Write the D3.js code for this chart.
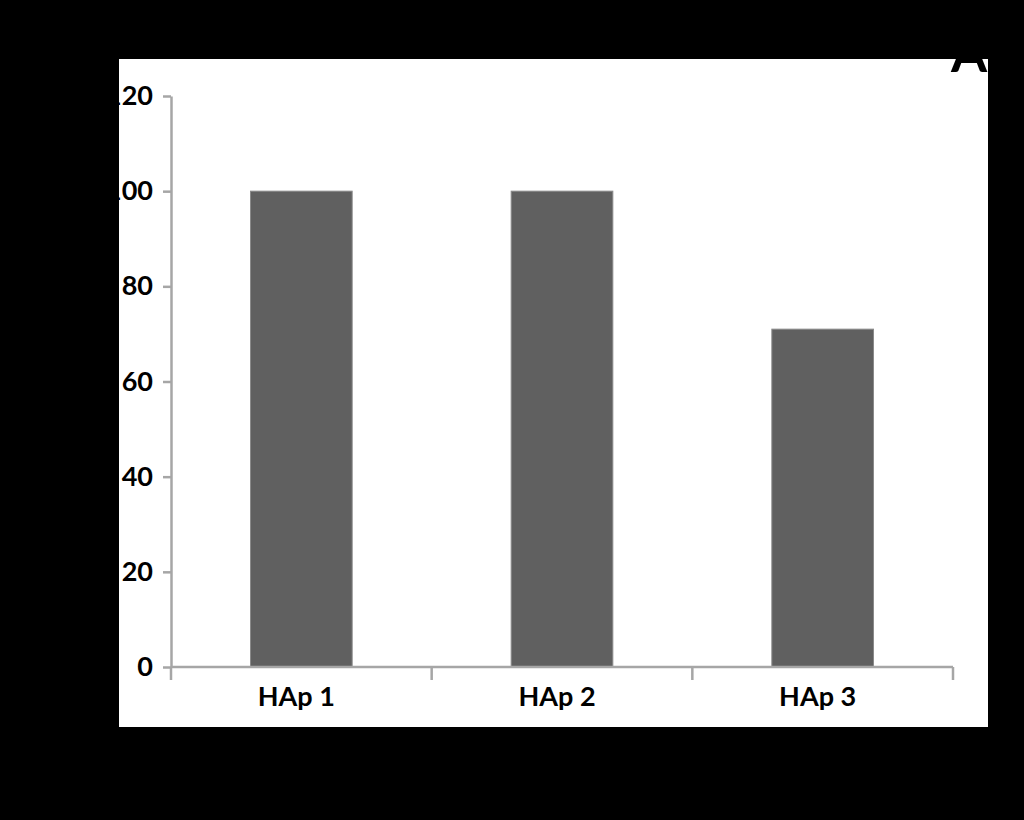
<!DOCTYPE html>
<html><head><meta charset="utf-8">
<script src="https://cdn.jsdelivr.net/npm/d3@7"></script>
<style>html,body{margin:0;padding:0;background:#000;}svg{display:block;}</style>
</head><body>
<svg id="chart" width="1024" height="820"></svg>
<script>
const categories = ["HAp 1", "HAp 2", "HAp 3"];
const values = [100, 100, 71];
const yTicks = [0, 20, 40, 60, 80, 100, 120];
const panelLabel = "A";

const svg = d3.select("#chart");
svg.append("rect").attr("x",0).attr("y",0).attr("width",1024).attr("height",820).attr("fill","#000");
const clip = svg.append("defs").append("clipPath").attr("id","panel");
clip.append("rect").attr("x",119).attr("y",59).attr("width",869).attr("height",668);
const g = svg.append("g").attr("clip-path","url(#panel)");
g.append("rect").attr("x",119).attr("y",59).attr("width",869).attr("height",668).attr("fill","#fff");

const x = d3.scaleBand().domain(categories).range([171,953]).paddingInner(0.61).paddingOuter(0.305);
const y = d3.scaleLinear().domain([0,120]).range([667,96]);

g.selectAll("rect.bar").data(values).join("rect").attr("class","bar")
  .attr("x",(d,i)=>x(categories[i])).attr("width",x.bandwidth())
  .attr("y",d=>y(d)).attr("height",d=>y(0)-y(d))
  .attr("fill","#606060").attr("stroke","#8a8a8a").attr("stroke-width",1);

const font = "Lato, 'Open Sans', sans-serif";
const yAxis = g.append("g").attr("transform","translate(171,0)")
  .call(d3.axisLeft(y).tickValues(yTicks).tickSize(8).tickPadding(10).tickSizeOuter(0));
yAxis.select(".domain").attr("stroke","#a6a6a6").attr("stroke-width",2.5);
yAxis.selectAll(".tick line").attr("stroke","#a6a6a6").attr("stroke-width",2.5);
yAxis.selectAll(".tick text").attr("fill","#000").attr("font-family",font).attr("font-weight","bold").attr("font-size",27);

const xAxisG = g.append("g").attr("transform","translate(0,667)");
xAxisG.append("line").attr("x1",171).attr("x2",953).attr("y1",0).attr("y2",0).attr("stroke","#a6a6a6").attr("stroke-width",2.5);
const bounds = d3.range(categories.length+1).map(i=>171+i*(782/categories.length));
xAxisG.selectAll("line.xt").data(bounds).join("line").attr("class","xt")
  .attr("x1",d=>d).attr("x2",d=>d).attr("y1",0).attr("y2",13).attr("stroke","#a6a6a6").attr("stroke-width",2.5);
xAxisG.selectAll("text").data(categories).join("text")
  .attr("x",d=>x(d)+x.bandwidth()/2-5).attr("y",39).attr("text-anchor","middle")
  .attr("font-family",font).attr("font-weight","bold").attr("font-size",27).attr("fill","#000").text(d=>d);

svg.append("text").attr("x",969).attr("y",72).attr("text-anchor","middle")
  .attr("font-family",font).attr("font-weight","bold").attr("font-size",52).attr("fill","#000").text(panelLabel);
</script>
</body></html>
